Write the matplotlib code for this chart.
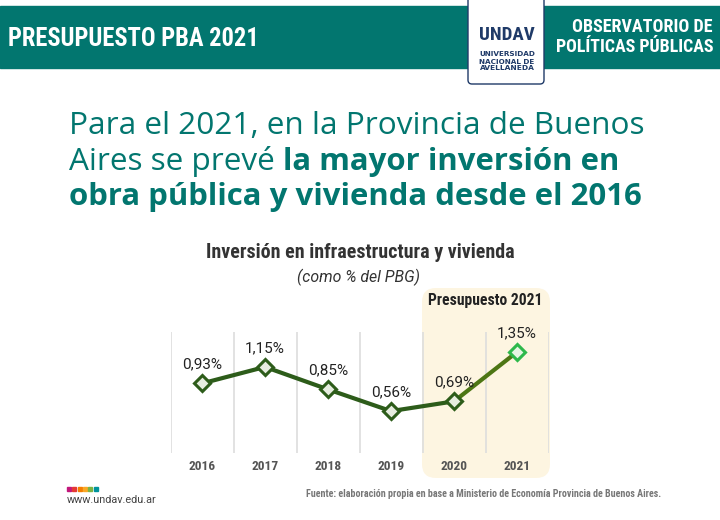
import matplotlib
matplotlib.use("Agg")
import matplotlib.pyplot as plt
import matplotlib.font_manager as fm
from matplotlib.patches import Rectangle, FancyBboxPatch

# ---- data ----
years = ["2016", "2017", "2018", "2019", "2020", "2021"]
values = [0.93, 1.15, 0.85, 0.56, 0.69, 1.35]
value_labels = ["0,93%", "1,15%", "0,85%", "0,56%", "0,69%", "1,35%"]

header_title = "PRESUPUESTO PBA 2021"
header_right = ["OBSERVATORIO DE", "POLÍTICAS PÚBLICAS"]
headline_1 = "Para el 2021, en la Provincia de Buenos"
headline_2a = "Aires se prevé "
headline_2b = "la mayor inversión en"
headline_3 = "obra pública y vivienda desde el 2016"
chart_title = "Inversión en infraestructura y vivienda"
chart_subtitle = "(como % del PBG)"
highlight_label = "Presupuesto 2021"
source_text = "Fuente: elaboración propia en base a Ministerio de Economía Provincia de Buenos Aires."
web_text = "www.undav.edu.ar"
logo_lines = ["UNIVERSIDAD", "NACIONAL DE", "AVELLANEDA"]
square_colors = ["#C2187B", "#E53935", "#F57C00", "#F9A825", "#7CB342", "#00939C"]

TEAL = "#02766F"
NAVY = "#1F3A68"

# pick a condensed family if one is installed
_names = {f.name for f in fm.fontManager.ttflist}
NARROW_KW = {"family": ["Roboto", "DejaVu Sans"]}
if "Roboto Condensed" in _names:
    NARROW_KW = {"family": ["Roboto Condensed", "DejaVu Sans"]}
elif "Liberation Sans Narrow" in _names:
    NARROW_KW = {"family": ["Liberation Sans Narrow", "DejaVu Sans"]}
elif any(f.name == "DejaVu Sans" and "condensed" in str(f.stretch) for f in fm.fontManager.ttflist):
    NARROW_KW = {"family": ["DejaVu Sans"], "fontstretch": "condensed"}
ROBOTO = ["Roboto", "DejaVu Sans"]
HEAD = ["Open Sans", "Lato", "DejaVu Sans"]

fig = plt.figure(figsize=(7.2, 5.2), dpi=100)
fig.patch.set_facecolor("white")
renderer = fig.canvas.get_renderer()

bg = fig.add_axes([0, 0, 1, 1])
bg.set_xlim(0, 720)
bg.set_ylim(520, 0)
bg.axis("off")


def fit(x, y, s, width, size0=10, **kw):
    """Place text and scale its size so that its width matches the reference."""
    t = bg.text(x, y, s, fontsize=size0, **kw)
    w = t.get_window_extent(renderer).width
    t.set_fontsize(size0 * width / w)
    return t


# header band
bg.add_patch(Rectangle((0, 6), 720, 62, color=TEAL, zorder=1))
fit(8, 39, header_title, 251, color="white", fontweight="bold",
    ha="left", va="center", zorder=3, **NARROW_KW)
fit(713, 27, header_right[0], 140, color="white", fontweight="bold",
    ha="right", va="center", zorder=3, **NARROW_KW)
fit(713, 47, header_right[1], 157, color="white", fontweight="bold",
    ha="right", va="center", zorder=3, **NARROW_KW)

# logo box
bg.add_patch(FancyBboxPatch((468, -20), 76, 104,
                            boxstyle="round,pad=0,rounding_size=4",
                            facecolor="white", edgecolor=NAVY, lw=1.0, zorder=2))
fit(506.5, 35.5, "UNDAV", 55, color=NAVY, fontweight="heavy",
    ha="center", va="center", zorder=3, **NARROW_KW)
for i, t in enumerate(logo_lines):
    fit(507, 54.5 + 7 * i, t, 56 if i < 2 else 55, color=NAVY, fontweight="bold",
        family=["DejaVu Sans"], ha="center", va="center", zorder=3)

# headline
t1 = fit(69, 134, headline_1, 573, size0=22, color=TEAL, family=HEAD,
         fontweight="normal", ha="left", va="baseline")
hsize = t1.get_fontsize()
t2 = bg.text(69, 170, headline_2a, color=TEAL, fontsize=hsize, family=HEAD,
             fontweight="normal", ha="left", va="baseline")
x2 = t2.get_window_extent(renderer).x1
t3 = fit(69, 205, headline_3, 572, size0=22, color=TEAL, family=HEAD,
         fontweight="bold", ha="left", va="baseline")
bg.text(x2, 170, headline_2b, color=TEAL, fontsize=t3.get_fontsize(), family=HEAD,
        fontweight="bold", ha="left", va="baseline")

# chart titles
fit(360, 253, chart_title, 309, color="#333333", fontweight="bold",
    ha="center", va="center", **NARROW_KW)
fit(358.5, 277, chart_subtitle, 123, color="#333333", style="italic",
    family=ROBOTO, ha="center", va="center")

# highlight region
bg.add_patch(FancyBboxPatch((422, 288), 128, 190,
                            boxstyle="round,pad=0,rounding_size=14",
                            facecolor="#FDF5E1", edgecolor="none", zorder=1))
fit(485.5, 300, highlight_label, 114, color="#222222", fontweight="bold",
    ha="center", va="center", zorder=3, **NARROW_KW)

# footer
for i, c in enumerate(square_colors):
    bg.add_patch(Rectangle((67 + i * 5.3, 486.5), 4, 4, color=c, zorder=2))
fit(67, 500, web_text, 90, color="#444444", family=ROBOTO, ha="left", va="center")
fit(306, 494, source_text, 356, color="#777777", fontweight="bold",
    ha="left", va="center", **NARROW_KW)

# ---- chart axes ----
ax = fig.add_axes([170.5 / 720, (520 - 453) / 520, 378 / 720, 121 / 520])
ax.set_facecolor("none")
ax.set_xlim(-0.5, 5.5)
ax.set_ylim(0, 1.617)
for s in ax.spines.values():
    s.set_visible(False)
for gx in [i - 0.5 for i in range(7)]:
    ax.axvline(gx, color="#DDDDDD", lw=1.2, zorder=1)

xs = list(range(len(years)))
ax.plot(xs[:5], values[:5], color="#2D5C1A", lw=3, zorder=3, solid_capstyle="round")
ax.plot(xs[4:], values[4:], color="#4D7614", lw=3, zorder=3, solid_capstyle="round")
ax.plot(xs[:5], values[:5], ls="none", marker="D", ms=8, mfc="#E7EDE0",
        mec="#2D5C1A", mew=2.2, zorder=4)
ax.plot(xs[5:], values[5:], ls="none", marker="D", ms=8, mfc="#E6F5E3",
        mec="#2DB84B", mew=2.2, zorder=4)

for x, v, lab in zip(xs, values, value_labels):
    ax.annotate(lab, (x, v), xytext=(0, 13.5), textcoords="offset points",
                ha="center", va="center", fontsize=11, color="#222222",
                family=ROBOTO, zorder=5)

ax.set_yticks([])
ax.set_xticks(xs)
ax.set_xticklabels(years, fontweight="bold", color="#555555", **NARROW_KW)
# size the year labels so that each is about 27 px wide like the reference
_probe = bg.text(0, 0, years[0], fontsize=10, fontweight="bold", **NARROW_KW)
_ysize = 10 * 27 / _probe.get_window_extent(renderer).width
_probe.remove()
for lbl in ax.get_xticklabels():
    lbl.set_fontsize(_ysize)
ax.tick_params(axis="x", length=0, pad=5)

fig.savefig("out.png", dpi=100, facecolor="white")
